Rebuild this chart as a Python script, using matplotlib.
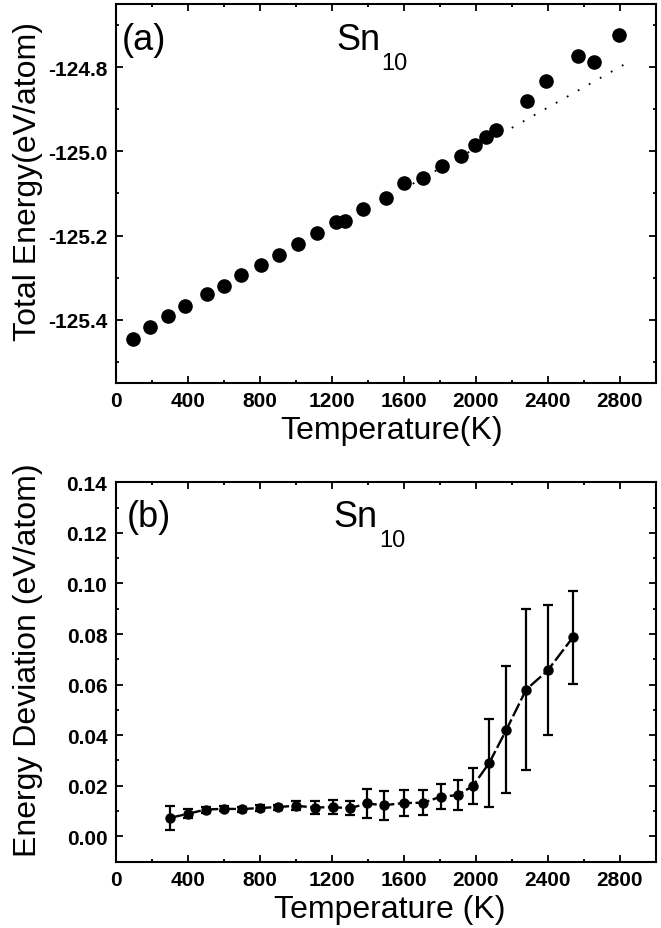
import matplotlib
matplotlib.use('Agg')
import matplotlib.pyplot as plt
from matplotlib.ticker import MultipleLocator, FormatStrFormatter

plt.rcParams['font.family'] = ['Liberation Sans', 'DejaVu Sans']

# panel (a): total energy vs temperature
temp_a = [95, 190, 290, 385, 505, 600, 695, 805, 910, 1015, 1120, 1225, 1275, 1375,
          1500, 1600, 1705, 1815, 1920, 1995, 2055, 2110, 2285, 2390, 2570, 2655, 2795]
energy_a = [-125.446, -125.418, -125.392, -125.367, -125.338, -125.319, -125.293,
            -125.271, -125.246, -125.220, -125.195, -125.169, -125.166, -125.137,
            -125.110, -125.076, -125.063, -125.035, -125.011, -124.986, -124.966,
            -124.950, -124.881, -124.834, -124.774, -124.787, -124.723]
# linear fit shown as dotted line
fit_T = [1650, 2870]
fit_E = [-125.077, -124.783]

# panel (b): energy deviation with error bars
temp_b = [300, 400, 500, 600, 700, 800, 900, 1000, 1110, 1205, 1300, 1395, 1490,
          1600, 1710, 1805, 1900, 1985, 2075, 2170, 2280, 2400, 2540]
dev_b = [0.0073, 0.0089, 0.0106, 0.0109, 0.0108, 0.0112, 0.0116, 0.0121, 0.0114,
         0.0116, 0.0111, 0.0130, 0.0123, 0.0132, 0.0133, 0.0157, 0.0163, 0.0200,
         0.0290, 0.0421, 0.0580, 0.0656, 0.0787]
err_b = [0.0046, 0.0018, 0.0012, 0.0010, 0.0010, 0.0011, 0.0010, 0.0017, 0.0025,
         0.0026, 0.0028, 0.0057, 0.0057, 0.0052, 0.0049, 0.0050, 0.0059, 0.0072,
         0.0174, 0.0251, 0.0317, 0.0257, 0.0184]

fig = plt.figure(figsize=(6.61, 9.29), dpi=100)
ax1 = fig.add_axes([0.175, 0.5867, 0.817, 0.408])
ax2 = fig.add_axes([0.175, 0.0714, 0.817, 0.4084])


def style_axes(ax):
    for s in ax.spines.values():
        s.set_linewidth(1.5)
    ax.set_xlim(0, 3000)
    ax.xaxis.set_major_locator(MultipleLocator(400))
    ax.xaxis.set_minor_locator(MultipleLocator(200))
    ax.tick_params(which='both', direction='in', top=True, right=True, width=1.3)
    ax.tick_params(which='major', length=5, labelsize=15, pad=6)
    ax.tick_params(which='minor', length=2.5)
    for lab in ax.get_xticklabels() + ax.get_yticklabels():
        lab.set_fontweight('bold')


def add_tags(ax, tag, x_tag, x_sn, y_base):
    ax.text(x_tag, y_base, tag, transform=ax.transAxes, fontsize=26, va='baseline')
    sn = ax.text(x_sn, y_base, 'Sn', transform=ax.transAxes, fontsize=26, va='baseline')
    ax.annotate('10', xy=(1.0, 0.14), xycoords=sn, xytext=(1, 0),
                textcoords='offset points', fontsize=17, va='top', ha='left')


# (a)
ax1.plot(temp_a, energy_a, 'o', color='black', ms=9.5, zorder=3)
ax1.plot(fit_T, fit_E, color='black', lw=1.3, dashes=(1, 6), zorder=2)
ax1.set_ylim(-125.55, -124.65)
ax1.yaxis.set_major_locator(MultipleLocator(0.2))
ax1.yaxis.set_minor_locator(MultipleLocator(0.1))
ax1.yaxis.set_major_formatter(FormatStrFormatter('%.1f'))
style_axes(ax1)
ax1.set_xlabel('Temperature(K)', fontsize=23)
ax1.set_ylabel('Total Energy(eV/atom)', fontsize=23)
ax1.xaxis.set_label_coords(0.51, -0.085)
ax1.yaxis.set_label_coords(-0.135, 0.533)
add_tags(ax1, '(a)', 0.011, 0.408, 0.881)

# (b)
ax2.errorbar(temp_b, dev_b, yerr=err_b, fmt='o', color='black', ms=6.5,
             ecolor='black', elinewidth=1.6, capsize=3.5, capthick=1.6, zorder=3)
ax2.plot(temp_b, dev_b, color='black', lw=1.7, dashes=(6, 1.5), zorder=2)
ax2.set_ylim(-0.01, 0.14)
ax2.yaxis.set_major_locator(MultipleLocator(0.02))
ax2.yaxis.set_minor_locator(MultipleLocator(0.01))
ax2.yaxis.set_major_formatter(FormatStrFormatter('%.2f'))
style_axes(ax2)
ax2.set_xlabel('Temperature (K)', fontsize=23)
ax2.set_ylabel('Energy Deviation (eV/atom)', fontsize=23)
ax2.xaxis.set_label_coords(0.508, -0.085)
ax2.yaxis.set_label_coords(-0.135, 0.534)
add_tags(ax2, '(b)', 0.021, 0.404, 0.884)

fig.savefig('out.png', dpi=100)
